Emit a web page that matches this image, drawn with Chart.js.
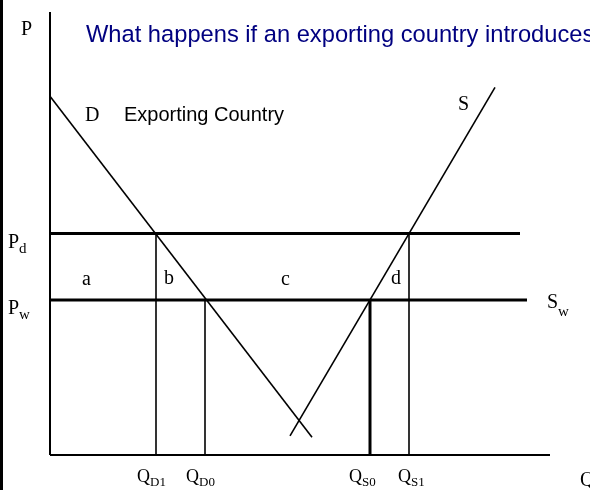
<!DOCTYPE html>
<html>
<head>
<meta charset="utf-8">
<script src="https://cdn.jsdelivr.net/npm/chart.js@4/dist/chart.umd.min.js"></script>
<style>
  html, body { margin: 0; padding: 0; background: #fff; }
  #wrap { position: relative; width: 590px; height: 490px; overflow: hidden; }
</style>
</head>
<body>
<div id="wrap"><canvas id="tariffChart" width="590" height="490"></canvas></div>
<script>
// price levels (domestic after tax, world)
const priceLabels = ['d', 'w'];
const priceValues = [50, 35];
const priceLineEnds = [94, 95.4];

// quantities on the horizontal axis
const quantityLabels = ['D1', 'D0', 'S0', 'S1'];
const quantityValues = [21.2, 31, 64, 71.8];
const quantityTops = [50, 35, 35, 50];

// demand and supply curves
const demandX = [0, 52.4];
const demandY = [81, 4];
const supplyX = [48, 89];
const supplyY = [4.3, 83];

// axes
const axisXEnd = 100;
const axisYEnd = 100;

const toPts = (xs, ys) => xs.map((x, i) => ({ x: x, y: ys[i] }));

const line = (data, width) => ({
  data: data,
  showLine: true,
  borderColor: '#000',
  borderWidth: width,
  pointRadius: 0,
  fill: false,
  clip: false
});

const datasets = [
  line([{ x: 0, y: 0 }, { x: 0, y: axisYEnd }], 2),
  line([{ x: 0, y: 0 }, { x: axisXEnd, y: 0 }], 2),
  line(toPts(demandX, demandY), 1.6),
  line(toPts(supplyX, supplyY), 1.6)
];
priceValues.forEach((p, i) => {
  datasets.push(line([{ x: 0, y: p }, { x: priceLineEnds[i], y: p }], 3));
});
quantityValues.forEach((q, i) => {
  datasets.push(line([{ x: q, y: 0 }, { x: q, y: quantityTops[i] }], i === 2 ? 3 : 1.6));
});

const labelsPlugin = {
  id: 'labels',
  beforeDraw(chart) {
    const ctx = chart.ctx;
    ctx.save();
    ctx.fillStyle = '#fff';
    ctx.fillRect(0, 0, chart.width, chart.height);
    ctx.fillStyle = '#000';
    ctx.fillRect(0, 0, 3, chart.height);
    ctx.restore();
  },
  afterDraw(chart) {
    const ctx = chart.ctx;
    const xs = chart.scales.x, ys = chart.scales.y;
    const serif = '"Liberation Serif", serif';
    const sub = (main, s, x, y, size, subSize, drop) => {
      ctx.font = size + 'px ' + serif;
      ctx.fillText(main, x, y);
      const w = ctx.measureText(main).width;
      ctx.font = subSize + 'px ' + serif;
      ctx.fillText(s, x + w, y + drop);
    };
    ctx.save();
    ctx.fillStyle = '#000';
    ctx.textBaseline = 'alphabetic';
    ctx.textAlign = 'left';

    // title
    ctx.fillStyle = '#000080';
    ctx.font = '23.7px Arial, "Liberation Sans", sans-serif';
    ctx.fillText('What happens if an exporting country introduces an export tax?', 86, 42);
    ctx.fillStyle = '#000';
    ctx.font = '20px Arial, "Liberation Sans", sans-serif';
    ctx.fillText('Exporting Country', 124, 121);

    // axis letters
    ctx.font = '20px ' + serif;
    ctx.fillText('P', 21, 35);
    ctx.fillText('Q', 580, 486);
    ctx.fillText('D', 85, 121);
    ctx.fillText('S', 458, 110);

    // area letters
    ctx.fillText('a', xs.getPixelForValue(6.4), ys.getPixelForValue(38.4));
    ctx.fillText('b', xs.getPixelForValue(22.8), ys.getPixelForValue(38.6));
    ctx.fillText('c', xs.getPixelForValue(46.2), ys.getPixelForValue(38.4));
    ctx.fillText('d', xs.getPixelForValue(68.2), ys.getPixelForValue(38.6));

    // price labels
    priceLabels.forEach((l, i) => {
      sub('P', l, 8, ys.getPixelForValue(priceValues[i]) + 14, 20, 15, 5);
    });
    sub('S', 'w', 547, ys.getPixelForValue(priceValues[1]) + 8, 20, 15, 8);

    // quantity labels
    const qShift = [-19, -19, -21, -11];
    quantityLabels.forEach((l, i) => {
      const cx = xs.getPixelForValue(quantityValues[i]);
      sub('Q', l, cx + qShift[i], 482, 18, 13, 4);
    });
    ctx.restore();
  }
};

new Chart(document.getElementById('tariffChart'), {
  type: 'scatter',
  data: { datasets: datasets },
  options: {
    responsive: false,
    animation: false,
    layout: { padding: { left: 50, top: 12, right: 0, bottom: 35 } },
    plugins: { legend: { display: false }, tooltip: { enabled: false } },
    scales: {
      x: { type: 'linear', min: 0, max: 108, display: false },
      y: { type: 'linear', min: 0, max: 100, display: false }
    }
  },
  plugins: [labelsPlugin]
});
</script>
</body>
</html>
